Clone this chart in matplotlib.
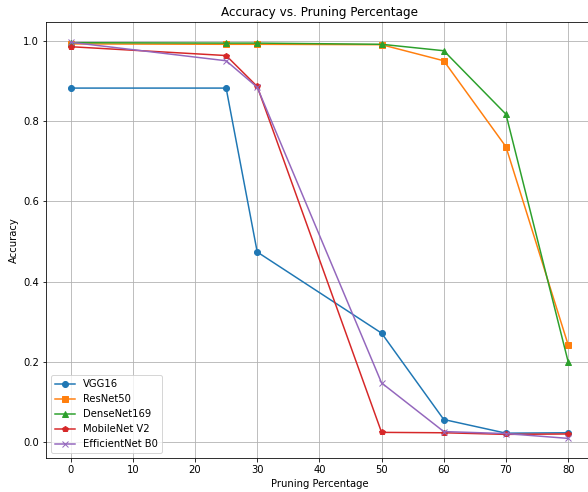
import matplotlib
matplotlib.use('Agg')
import matplotlib.pyplot as plt

pruning = [0, 25, 30, 50, 60, 70, 80]

vgg16 = [0.882, 0.882, 0.474, 0.272, 0.057, 0.023, 0.024]
resnet50 = [0.992, 0.991, 0.991, 0.990, 0.950, 0.736, 0.243]
densenet169 = [0.995, 0.994, 0.994, 0.991, 0.975, 0.817, 0.201]
mobilenet_v2 = [0.985, 0.963, 0.886, 0.025, 0.024, 0.020, 0.021]
efficientnet_b0 = [0.996, 0.950, 0.884, 0.148, 0.027, 0.022, 0.010]

# rendered at 72 dpi so text/markers come out at the reference's scale
fig = plt.figure(figsize=(588 / 72, 492 / 72), dpi=72)
ax = fig.add_axes([0.0779, 0.0687, 0.9306, 0.8856])

ax.plot(pruning, vgg16, marker='o', label='VGG16')
ax.plot(pruning, resnet50, marker='s', label='ResNet50')
ax.plot(pruning, densenet169, marker='^', label='DenseNet169')
ax.plot(pruning, mobilenet_v2, marker='p', label='MobileNet V2')
ax.plot(pruning, efficientnet_b0, marker='x', label='EfficientNet B0')

ax.set_title('Accuracy vs. Pruning Percentage')
ax.set_xlabel('Pruning Percentage')
ax.set_ylabel('Accuracy')
ax.grid(True)
ax.legend(loc='lower left')

fig.savefig('out.png', dpi=72)
